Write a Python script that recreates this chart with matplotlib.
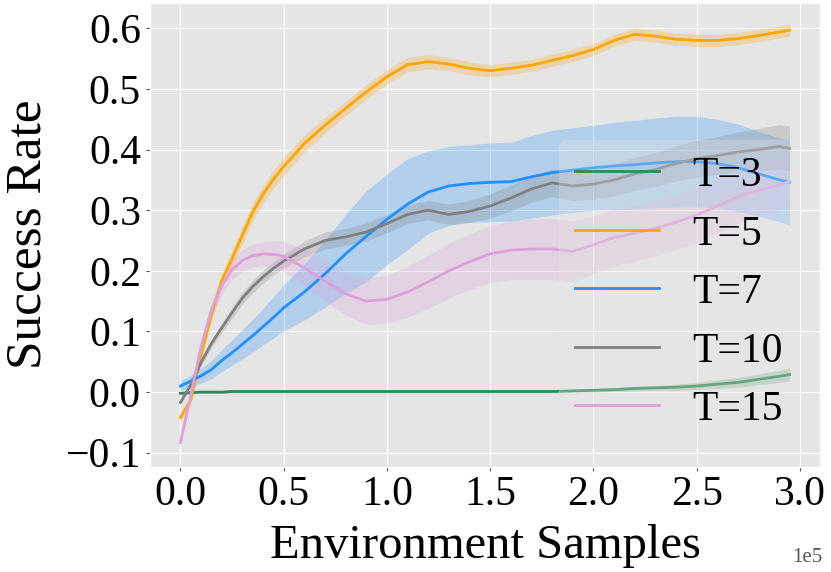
import matplotlib
matplotlib.use("Agg")
import matplotlib.pyplot as plt
import numpy as np

# x positions in units of 1e5 environment samples
steps = [0, 0.05, 0.1, 0.15, 0.2, 0.25, 0.3, 0.35, 0.4, 0.45, 0.5, 0.6, 0.7, 0.8, 0.9, 1.0, 1.1, 1.2,
         1.3, 1.4, 1.5, 1.6, 1.7, 1.8, 1.9, 2.0, 2.1, 2.2, 2.3, 2.4, 2.5, 2.6, 2.7, 2.8, 2.9, 2.95]

t3_mean = [-0.002, -0.001, 0.0, 0.0, 0.0, 0.001, 0.001, 0.001, 0.001, 0.001, 0.001, 0.001, 0.001,
           0.001, 0.001, 0.001, 0.001, 0.001, 0.001, 0.001, 0.001, 0.001, 0.001, 0.001, 0.002, 0.003,
           0.004, 0.006, 0.007, 0.008, 0.01, 0.013, 0.016, 0.021, 0.026, 0.029]
t3_err = [0.002, 0.002, 0.002, 0.002, 0.002, 0.002, 0.002, 0.002, 0.002, 0.002, 0.002, 0.002, 0.002,
          0.002, 0.002, 0.002, 0.002, 0.002, 0.002, 0.002, 0.002, 0.002, 0.002, 0.002, 0.002, 0.003,
          0.003, 0.004, 0.004, 0.005, 0.006, 0.007, 0.008, 0.009, 0.01, 0.011]

t5_mean = [-0.042, -0.013, 0.062, 0.128, 0.184, 0.22, 0.259, 0.297, 0.326, 0.351, 0.372, 0.41, 0.44,
           0.468, 0.495, 0.52, 0.54, 0.545, 0.541, 0.534, 0.53, 0.534, 0.539, 0.547, 0.555, 0.565,
           0.58, 0.59, 0.587, 0.582, 0.58, 0.58, 0.583, 0.588, 0.594, 0.597]
t5_err = [0.006, 0.008, 0.01, 0.012, 0.013, 0.014, 0.014, 0.015, 0.015, 0.015, 0.015, 0.014, 0.013,
          0.012, 0.012, 0.012, 0.012, 0.012, 0.011, 0.011, 0.01, 0.01, 0.01, 0.01, 0.01, 0.01,
          0.01, 0.01, 0.01, 0.01, 0.01, 0.01, 0.01, 0.01, 0.01, 0.01]

t7_mean = [0.01, 0.018, 0.027, 0.037, 0.052, 0.065, 0.079, 0.093, 0.108, 0.123, 0.139, 0.165, 0.195,
           0.228, 0.257, 0.285, 0.31, 0.33, 0.34, 0.344, 0.346, 0.347, 0.355, 0.362, 0.366, 0.37,
           0.373, 0.375, 0.378, 0.38, 0.38, 0.377, 0.37, 0.36, 0.35, 0.346]
t7_err = [0.008, 0.01, 0.012, 0.015, 0.018, 0.021, 0.024, 0.027, 0.03, 0.034, 0.038, 0.046, 0.055,
          0.065, 0.075, 0.075, 0.075, 0.068, 0.065, 0.064, 0.065, 0.065, 0.068, 0.07, 0.07, 0.07,
          0.072, 0.073, 0.074, 0.075, 0.075, 0.073, 0.072, 0.07, 0.069, 0.07]

t10_mean = [-0.017, 0.012, 0.049, 0.08, 0.106, 0.131, 0.155, 0.174, 0.19, 0.204, 0.216, 0.236, 0.25,
            0.256, 0.264, 0.278, 0.293, 0.3, 0.293, 0.298, 0.307, 0.32, 0.335, 0.345, 0.34, 0.343,
            0.35, 0.36, 0.367, 0.377, 0.385, 0.39, 0.396, 0.4, 0.405, 0.402]
t10_err = [0.004, 0.005, 0.006, 0.007, 0.008, 0.009, 0.01, 0.01, 0.011, 0.011, 0.012, 0.013, 0.014,
           0.014, 0.015, 0.015, 0.015, 0.016, 0.017, 0.018, 0.02, 0.021, 0.022, 0.023, 0.024, 0.025,
           0.026, 0.027, 0.028, 0.029, 0.03, 0.031, 0.033, 0.035, 0.036, 0.037]

t15_mean = [-0.083, -0.005, 0.075, 0.135, 0.176, 0.202, 0.217, 0.225, 0.228, 0.227, 0.224, 0.205, 0.183,
            0.162, 0.15, 0.153, 0.165, 0.182, 0.2, 0.215, 0.228, 0.234, 0.236, 0.236, 0.232, 0.243,
            0.255, 0.262, 0.27, 0.28, 0.292, 0.307, 0.322, 0.333, 0.342, 0.347]
t15_err = [0.005, 0.008, 0.01, 0.013, 0.015, 0.017, 0.018, 0.019, 0.02, 0.022, 0.025, 0.03, 0.033,
           0.035, 0.038, 0.04, 0.042, 0.044, 0.045, 0.046, 0.047, 0.048, 0.05, 0.05, 0.05, 0.048,
           0.047, 0.046, 0.045, 0.045, 0.045, 0.044, 0.043, 0.042, 0.041, 0.04]

labels = ["T=3", "T=5", "T=7", "T=10", "T=15"]
means = [t3_mean, t5_mean, t7_mean, t10_mean, t15_mean]
errs = [t3_err, t5_err, t7_err, t10_err, t15_err]
colors = ["seagreen", "orange", "dodgerblue", "gray", "plum"]

plt.style.use("ggplot")
plt.rcParams["font.family"] = ["Liberation Serif", "DejaVu Serif"]
plt.rcParams["axes.unicode_minus"] = True

fig = plt.figure(figsize=(8.31, 5.72), dpi=100)
ax = fig.add_axes([0.1805, 0.1844, 0.8063, 0.8104])

x = np.array(steps) * 1e5
for lab, m, e, c in zip(labels, means, errs, colors):
    m = np.array(m)
    e = np.array(e)
    ax.plot(x, m, color=c, lw=2, label=lab)
    ax.fill_between(x, m - e, m + e, color=c, alpha=0.25, lw=0)

ax.set_xticks([0, 0.5e5, 1e5, 1.5e5, 2e5, 2.5e5, 3e5])
ax.set_xticklabels(["0.0", "0.5", "1.0", "1.5", "2.0", "2.5", "3.0"])
ax.set_yticks([-0.1, 0.0, 0.1, 0.2, 0.3, 0.4, 0.5, 0.6])
ax.tick_params(labelsize=30, labelcolor="black", color="#555555", length=3)
fig.text(0.99, 1 - 558 / 572, "1e5", fontsize=15, color="#555555", ha="right", va="center")

ax.set_xlabel("Environment Samples", fontsize=35, color="black", labelpad=7)
ax.set_ylabel("Success Rate", fontsize=37, color="black", labelpad=10)

leg = ax.legend(loc="lower right", fontsize=30, framealpha=0.3, labelspacing=0.48,
                edgecolor="0.92", facecolor="#E5E5E5")

fig.savefig("out.png", dpi=100)
